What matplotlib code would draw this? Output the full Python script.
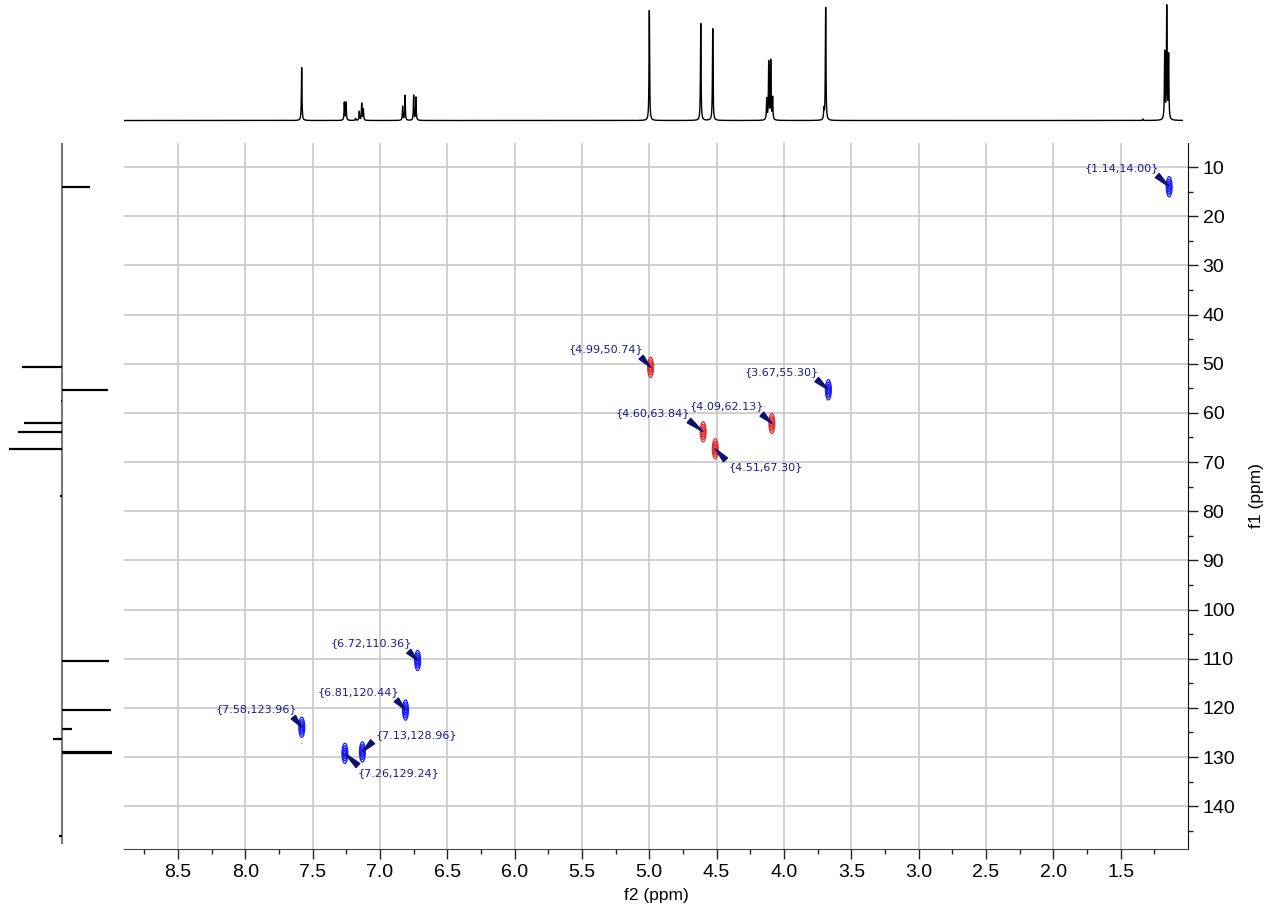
import numpy as np
import matplotlib
matplotlib.use('Agg')
import matplotlib.pyplot as plt

# ----------------------------------
# DATA
# ----------------------------------

# 1H projection (top): peak shifts (ppm) and heights
h1_shift = [7.580, 7.263, 7.250, 7.180, 7.152, 7.134, 7.122, 6.830, 6.812,
            6.748, 6.731, 4.997, 4.615, 4.526, 4.125, 4.110, 4.095, 4.081,
            3.700, 3.687, 1.330, 1.168, 1.153, 1.139]
h1_height = [53, 18, 18, 2, 9, 17, 11, 14, 25,
             25, 23, 110, 97, 92, 21, 58, 59, 22,
             10, 113, 1.5, 67, 112, 64]

# 13C projection (left): shifts (ppm) and signed intensities
c13_shift = [14.00, 50.74, 55.30, 57.5, 62.13, 63.84, 67.30, 77.0,
             110.36, 120.44, 124.3, 126.4, 128.96, 129.24, 146.0]
c13_int = [28, -40, 46, -1, -38, -44, -53, -2.5,
           47, 49, 10, -9, 50, 50, -3]

# HSQC cross peaks: f2 (1H), f1 (13C), phase (+1 blue / -1 red)
xpk_f2 = [1.14, 4.99, 3.67, 4.60, 4.09, 4.51, 6.72, 6.81, 7.58, 7.13, 7.26, 7.58]
xpk_f1 = [14.00, 50.74, 55.30, 63.84, 62.13, 67.30, 110.36, 120.44, 123.96,
          128.96, 129.24, 127.10]
xpk_amp = [1, -1, 1, -1, -1, -1, 1, 1, 1, 1, 1, -0.13]
n_labeled = 11

x_ticks = [8.5, 8.0, 7.5, 7.0, 6.5, 6.0, 5.5, 5.0, 4.5, 4.0, 3.5, 3.0, 2.5, 2.0, 1.5]
y_ticks = [10, 20, 30, 40, 50, 60, 70, 80, 90, 100, 110, 120, 130, 140]

# label placement (pixels from peak), anchor and arrow start on text box
lab_dx = [-10, -7, -10, -13, -8, 13, -6, -6, -5, 13, 13]
lab_dy = [19, 18, 18, 19, 17, -18, 17, 18, 18, 17, -20]
lab_ha = ['right'] * 5 + ['left'] + ['right'] * 3 + ['left', 'left']
lab_rel = [(0.92, 0.1)] * 5 + [(0.0, 0.9)] + [(0.92, 0.1)] * 3 + [(0.0, 0.1), (0.05, 0.9)]

XLIM = (8.90, 1.00)
YLIM = (148.7, 5.1)
W, H = 1275, 906


def frac(x0, y0, x1, y1):
    # pixel box -> figure fraction
    return [x0 / W, 1 - y1 / H, (x1 - x0) / W, (y1 - y0) / H]


fig = plt.figure(figsize=(W / 100, H / 100), dpi=100)
fig.patch.set_facecolor('white')

tick_font = 'Liberation Sans'

# ----------------------------------
# MAIN 2D PANEL
# ----------------------------------
ax = fig.add_axes(frac(124, 143, 1188, 849))
ax.set_xlim(*XLIM)
ax.set_ylim(*YLIM)

xg = np.linspace(XLIM[0], XLIM[1], 2400)
yg = np.linspace(YLIM[1], YLIM[0], 900)
X, Y = np.meshgrid(xg, yg)
Z = np.zeros_like(X)
sx, sy = 0.0105, 1.0
for f2, f1, a in zip(xpk_f2, xpk_f1, xpk_amp):
    k = 0.4 if abs(a) < 0.5 else 1.0
    Z += a * np.exp(-((X - f2) ** 2 / (2 * (k * sx) ** 2) + (Y - f1) ** 2 / (2 * (k * sy) ** 2)))

lev = [0.12, 0.3, 0.55, 0.8]
ax.contour(X, Y, Z, levels=lev, colors='#1a1aff', linewidths=0.9)
ax.contour(X, Y, Z, levels=[-v for v in lev[::-1]], colors='#e03030',
           linewidths=0.9, linestyles='solid')

for i in range(n_labeled):
    f2, f1 = xpk_f2[i], xpk_f1[i]
    ax.annotate('{%.2f,%.2f}' % (f2, f1), xy=(f2, f1),
                xytext=(lab_dx[i], lab_dy[i]), textcoords='offset pixels',
                ha=lab_ha[i], va='center', fontsize=8, color='#1c1c8c',
                family='DejaVu Sans',
                arrowprops=dict(arrowstyle='wedge,tail_width=0.5', color='#10106e',
                                mutation_scale=8, shrinkA=0, shrinkB=0,
                                relpos=lab_rel[i]))

ax.set_xticks(x_ticks)
ax.set_xticks(np.arange(8.75, 1.0, -0.25), minor=True)
ax.set_yticks(y_ticks)
ax.set_yticks(np.arange(15, 146, 10), minor=True)
ax.set_xticklabels(['%.1f' % t for t in x_ticks], fontsize=14, family=tick_font)
ax.set_yticklabels([str(t) for t in y_ticks], fontsize=14, family=tick_font)
ax.yaxis.tick_right()
ax.yaxis.set_label_position('right')
ax.tick_params(which='major', length=7, width=1, pad=3.5, color='#222')
ax.tick_params(which='minor', length=3.5, width=1, color='#222')
ax.grid(True, which='major', color='#c8c8c8', linewidth=1.2)
for s in ['top', 'left']:
    ax.spines[s].set_visible(False)
ax.spines['bottom'].set_color('#444')
ax.spines['right'].set_color('#111')
ax.set_xlabel('f2 (ppm)', fontsize=12.5, family=tick_font, labelpad=5)
ax.set_ylabel('f1 (ppm)', fontsize=12.5, family=tick_font, labelpad=10)

# ----------------------------------
# TOP 1H PROJECTION
# ----------------------------------
ax_t = fig.add_axes(frac(124, 3, 1183, 123))
xs = np.linspace(8.90, 1.032, 24000)
ys = np.zeros_like(xs)
hw = 0.0025
for s, h in zip(h1_shift, h1_height):
    ys += h * hw ** 2 / ((xs - s) ** 2 + hw ** 2)
ax_t.plot(xs, ys, color='black', linewidth=1.0)
ax_t.set_xlim(8.90, 1.032)
ax_t.set_ylim(-2.5, 117.5)
ax_t.axis('off')

# ----------------------------------
# LEFT 13C PROJECTION
# ----------------------------------
ax_l = fig.add_axes(frac(0, 143, 122, 849))
ax_l.set_xlim(-62, 60)
ax_l.set_ylim(*YLIM)
ax_l.axvline(0, ymin=0.0085, ymax=1.0, color='#777777', linewidth=1.5)
ax_l.hlines(c13_shift, 0, c13_int, colors='black', linewidth=1.6)
ax_l.axis('off')

plt.savefig('out.png', dpi=100)
